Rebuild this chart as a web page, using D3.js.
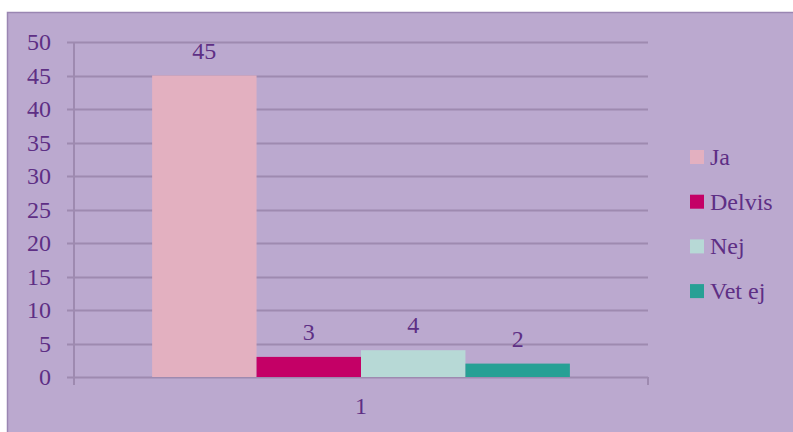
<!DOCTYPE html>
<html><head><meta charset="utf-8">
<script src="https://cdn.jsdelivr.net/npm/d3@7"></script>
</head><body style="margin:0"><svg id="c" width="793" height="432" style="display:block;font-family:'Liberation Serif'"></svg>
<script>
const categories = ["1"];
const seriesNames = ["Ja", "Delvis", "Nej", "Vet ej"];
const seriesValues = [45, 3, 4, 2];
const seriesColors = ["#E3B0C0", "#C40066", "#B7D9D6", "#27A095"];
const yTicks = [0, 5, 10, 15, 20, 25, 30, 35, 40, 45, 50];

const svg = d3.select("#c");
const font = "Liberation Serif";
const textCol = "#5E2F85";
const lineCol = "#9E8AB0";
const fs = 24;

svg.append("rect").attr("x", 7.5).attr("y", 12.5).attr("width", 800).attr("height", 430)
  .attr("fill", "#BBA9CF").attr("stroke", "#9A86B2").attr("stroke-width", 1.5);

const x0 = 74, x1 = 648, yTop = 42, yBot = 377;
const y = d3.scaleLinear().domain([0, 50]).range([yBot, yTop]);
const xb = d3.scaleBand().domain(categories).range([x0, x1]).paddingInner(0).paddingOuter(0.187);
const xs = d3.scaleBand().domain(seriesNames).range([0, xb.bandwidth()]).padding(0);

// gridlines
svg.append("g").selectAll("line").data(yTicks).join("line")
  .attr("x1", x0 - 7).attr("x2", x1)
  .attr("y1", d => Math.round(y(d)) + 0.5).attr("y2", d => Math.round(y(d)) + 0.5)
  .attr("stroke", lineCol).attr("stroke-width", 2);

// y axis
const yAxis = d3.axisLeft(y).tickValues(yTicks).tickSize(0).tickPadding(23);
const gy = svg.append("g").attr("transform", `translate(${x0},0)`).call(yAxis)
  .style("font-family", font).style("font-size", fs);
gy.select(".domain").remove();
gy.selectAll("text").style("font-family", font).style("font-size", fs).attr("fill", textCol);
svg.append("line").attr("x1", x0).attr("x2", x0).attr("y1", yTop).attr("y2", yBot + 8)
  .attr("stroke", lineCol).attr("stroke-width", 2);

// x axis
const xAxis = d3.axisBottom(xb).tickSize(0).tickPadding(20);
const gx = svg.append("g").attr("transform", `translate(0,${yBot})`).call(xAxis)
  .style("font-family", font).style("font-size", fs);
gx.select(".domain").remove();
gx.selectAll("text").style("font-family", font).style("font-size", fs).attr("fill", textCol);
svg.append("line").attr("x1", x1).attr("x2", x1).attr("y1", yBot).attr("y2", yBot + 8)
  .attr("stroke", lineCol).attr("stroke-width", 2);

// bars
const data = seriesNames.map((n, i) => ({ name: n, value: seriesValues[i], color: seriesColors[i] }));
const g = svg.append("g").attr("transform", `translate(${xb(categories[0])},0)`);
g.selectAll("rect").data(data).join("rect")
  .attr("x", d => xs(d.name)).attr("width", xs.bandwidth())
  .attr("y", d => y(d.value)).attr("height", d => y(0) - y(d.value))
  .attr("fill", d => d.color);
g.selectAll("text").data(data).join("text")
  .attr("x", d => xs(d.name) + xs.bandwidth() / 2)
  .attr("y", d => y(d.value) - 17)
  .attr("text-anchor", "middle")
  .style("font-family", font).style("font-size", fs).attr("fill", textCol)
  .text(d => d.value);

// legend
const lg = svg.append("g").selectAll("g").data(data).join("g")
  .attr("transform", (d, i) => `translate(690,${150 + i * 44.7})`);
lg.append("rect").attr("width", 14).attr("height", 14).attr("fill", d => d.color);
lg.append("text").attr("x", 20).attr("y", 15).style("font-family", font).style("font-size", fs)
  .attr("fill", textCol).text(d => d.name);
</script></body></html>
